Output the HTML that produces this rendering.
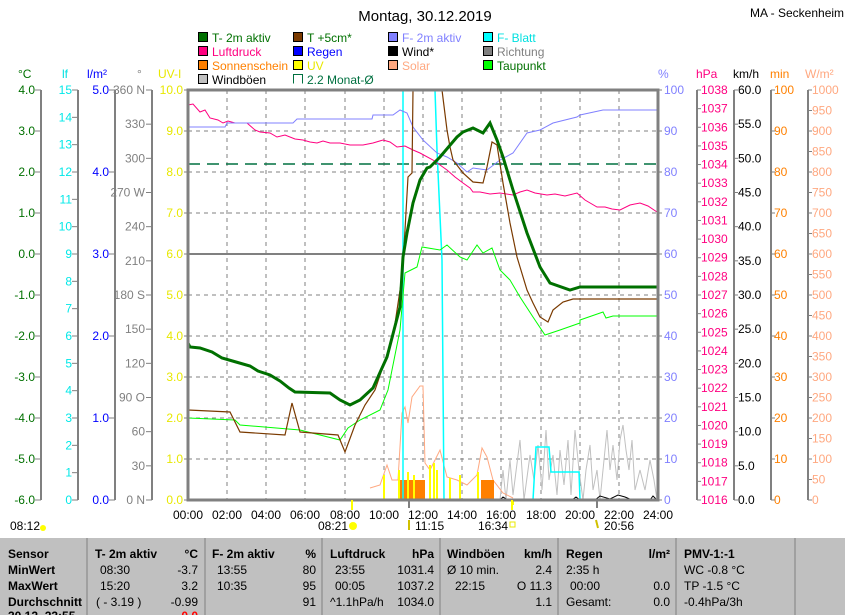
<!DOCTYPE html>
<html><head><meta charset="utf-8"><style>
body{margin:0;background:#fff;}
svg{display:block;font-family:"Liberation Sans",sans-serif;}
</style></head><body>
<svg width="845" height="615" viewBox="0 0 845 615" xmlns="http://www.w3.org/2000/svg">
<rect width="845" height="615" fill="#fff"/>
<text x="425" y="21" font-size="15" text-anchor="middle">Montag, 30.12.2019</text>
<text x="750" y="17" font-size="12">MA - Seckenheim</text>
<g font-size="12">
<rect x="198.5" y="32.5" width="9" height="9" fill="#007000" stroke="#000"/><text x="212" y="42" fill="#007000">T- 2m aktiv</text>
<rect x="293.5" y="32.5" width="9" height="9" fill="#7a3a00" stroke="#000"/><text x="307" y="42" fill="#007000">T +5cm*</text>
<rect x="388.5" y="32.5" width="9" height="9" fill="#8080ff" stroke="#000"/><text x="402" y="42" fill="#8080ff">F- 2m aktiv</text>
<rect x="483.5" y="32.5" width="9" height="9" fill="#00ffff" stroke="#000"/><text x="497" y="42" fill="#00e0e0">F- Blatt</text>
<rect x="198.5" y="46.5" width="9" height="9" fill="#ff0080" stroke="#000"/><text x="212" y="56" fill="#ff0080">Luftdruck</text>
<rect x="293.5" y="46.5" width="9" height="9" fill="#0000ff" stroke="#000"/><text x="307" y="56" fill="#0000ff">Regen</text>
<rect x="388.5" y="46.5" width="9" height="9" fill="#000" stroke="#000"/><text x="402" y="56" fill="#000">Wind*</text>
<rect x="483.5" y="46.5" width="9" height="9" fill="#808080" stroke="#000"/><text x="497" y="56" fill="#808080">Richtung</text>
<rect x="198.5" y="60.5" width="9" height="9" fill="#ff8000" stroke="#000"/><text x="212" y="70" fill="#ff8000">Sonnenschein</text>
<rect x="293.5" y="60.5" width="9" height="9" fill="#ffff00" stroke="#000"/><text x="307" y="70" fill="#e8e800">UV</text>
<rect x="388.5" y="60.5" width="9" height="9" fill="#ffa880" stroke="#000"/><text x="402" y="70" fill="#ffa880">Solar</text>
<rect x="483.5" y="60.5" width="9" height="9" fill="#00ff00" stroke="#000"/><text x="497" y="70" fill="#007000">Taupunkt</text>
<rect x="198.5" y="74.5" width="9" height="9" fill="#c0c0c0" stroke="#000"/><text x="212" y="84" fill="#000">Windböen</text>
<path d="M293.5,83.5 V74.5 H302.5 V83.5" fill="none" stroke="#007040"/><text x="307" y="84" fill="#007040">2.2 Monat-Ø</text>
</g>
<g font-size="12">
<text x="18" y="78" fill="#007000">°C</text>
<text x="62" y="78" fill="#00e0e0">lf</text>
<text x="87" y="78" fill="#0000ff">l/m²</text>
<text x="137" y="78" fill="#808080">°</text>
<text x="158" y="78" fill="#e8e800">UV-I</text>
<text x="658" y="78" fill="#8080ff">%</text>
<text x="696" y="78" fill="#ff0080">hPa</text>
<text x="733" y="78" fill="#000">km/h</text>
<text x="770" y="78" fill="#ff8000">min</text>
<text x="805" y="78" fill="#ffa880">W/m²</text>
</g>
<g stroke="#808080" stroke-width="2">
<line x1="41" y1="90" x2="41" y2="500"/><line x1="78" y1="90" x2="78" y2="500"/><line x1="115" y1="90" x2="115" y2="500"/><line x1="152" y1="90" x2="152" y2="500"/>
<line x1="697" y1="90" x2="697" y2="500"/><line x1="734" y1="90" x2="734" y2="500"/><line x1="771" y1="90" x2="771" y2="500"/><line x1="808" y1="90" x2="808" y2="500"/>
</g>
<g id="ticks" font-size="12"></g>
<!-- grid -->
<g stroke="#808080" stroke-dasharray="4,4" stroke-width="1">
<line x1="188" y1="131" x2="658" y2="131"/><line x1="188" y1="172" x2="658" y2="172"/><line x1="188" y1="213" x2="658" y2="213"/>
<line x1="188" y1="295" x2="658" y2="295"/><line x1="188" y1="336" x2="658" y2="336"/><line x1="188" y1="377" x2="658" y2="377"/><line x1="188" y1="418" x2="658" y2="418"/><line x1="188" y1="459" x2="658" y2="459"/>
<line x1="227" y1="90" x2="227" y2="500"/><line x1="266" y1="90" x2="266" y2="500"/><line x1="305" y1="90" x2="305" y2="500"/><line x1="345" y1="90" x2="345" y2="500"/><line x1="384" y1="90" x2="384" y2="500"/><line x1="423" y1="90" x2="423" y2="500"/><line x1="462" y1="90" x2="462" y2="500"/><line x1="501" y1="90" x2="501" y2="500"/><line x1="541" y1="90" x2="541" y2="500"/><line x1="580" y1="90" x2="580" y2="500"/><line x1="619" y1="90" x2="619" y2="500"/>
</g>
<line x1="188" y1="254" x2="658" y2="254" stroke="#808080" stroke-width="2"/>
<line x1="188" y1="164" x2="658" y2="164" stroke="#007040" stroke-width="1.5" stroke-dasharray="12,7"/>
<!-- low series -->
<path d="M500,500 L503,470 L506,500 L510,460 L513,495 L520,440 L524,500 L530,455 L534,480 L538,445 L542,490 L546,430 L549,480 L553,455 L557,495 L560,450 L564,485 L568,440 L571,495 L575,430 L579,470 L583,500 L586,470 L590,445 L593,490 L597,470 L600,500 L604,460 L607,430 L610,470 L613,445 L617,480 L620,440 L623,425 L626,450 L629,470 L632,440 L635,490 L640,470 L645,490 L650,460 L654,480 L657,500" fill="none" stroke="#c0c0c0" stroke-width="1"/>
<path d="M370,488 L380,485 L387,465 L392,480 L398,480 L402,413 L405,407 L408,423 L412,397 L420,386 L423,386 L425,463 L430,470 L440,450 L447,477 L457,480 L467,485 L477,475 L482,448 L487,457 L493,480 L503,493 L513,498" fill="none" stroke="#ffa880"/>
<rect x="399" y="480" width="26" height="19" fill="#ff8000"/>
<rect x="481" y="480" width="13" height="19" fill="#ff8000"/>
<g stroke="#ffff00" stroke-width="2">
<line x1="384" y1="500" x2="384" y2="475"/><line x1="399" y1="500" x2="399" y2="470"/><line x1="408" y1="500" x2="408" y2="472"/><line x1="414" y1="500" x2="414" y2="475"/><line x1="430" y1="500" x2="430" y2="465"/><line x1="434" y1="500" x2="434" y2="463"/><line x1="437" y1="500" x2="437" y2="470"/><line x1="450" y1="500" x2="450" y2="478"/><line x1="460" y1="500" x2="460" y2="475"/><line x1="478" y1="500" x2="478" y2="472"/><line x1="513" y1="500" x2="513" y2="505"/>
</g>
<path d="M500,500 L503,497 L508,500 M572,500 L576,497 L580,500 M595,500 L600,496 L610,499 L618,495 L625,497 L632,500 M650,500 L653,496 L657,500" fill="none" stroke="#000"/>
<path d="M403,500 L403,90 L435,90 L437,150 L442,260 L444,500 M533,500 L536,447 L549,447 L551,472 L579,472 L580,500" fill="none" stroke="#00ffff" stroke-width="1.5"/>
<!-- pressure -->
<path d="M188,105 L193,104 L200,112 L205,110 L210,118 L218,120 L223,123 L228,121 L235,123 L247,123 L255,130 L260,132 L270,133 L277,137 L285,135 L295,139 L303,140 L310,142 L317,143 L323,141 L330,143 L340,143 L350,145 L363,145 L373,143 L383,140 L390,142 L397,147 L405,146 L413,150 L420,153 L433,160 L440,165 L447,170 L455,177 L463,183 L470,188 L473,192 L480,192 L490,194 L500,193 L513,195 L520,192 L527,190 L535,193 L547,195 L555,194 L565,196 L577,193 L585,200 L597,207 L605,207 L612,209 L620,210 L630,205 L640,203 L648,206 L657,212" fill="none" stroke="#ff0080"/>
<path d="M188,127 L225,127 L227,123 L293,123 L297,119 L372,119 L373,115 L393,115 L400,110 L407,113 L413,127 L423,140 L437,153 L447,157 L457,163 L467,172 L473,168 L487,170 L500,160 L513,153 L527,133 L540,130 L553,123 L577,117 L580,115 L603,110 L657,110" fill="none" stroke="#8080ff"/>
<path d="M188,418 L235,420 L240,425 L300,430 L340,440 L348,428 L360,420 L380,410 L388,390 L400,330 L405,273 L417,267 L422,247 L440,250 L447,245 L460,257 L467,260 L477,245 L483,253 L492,248 L500,270 L510,280 L520,297 L533,317 L545,335 L560,330 L580,323 L580,320 L603,312 L606,318 L613,316 L657,316" fill="none" stroke="#00ff00"/>
<path d="M188,410 L230,412 L240,432 L285,435 L292,403 L300,432 L338,435 L345,452 L355,425 L365,405 L375,390 L393,337 L402,277 L405,230 L408,177 L412,173 L413,90 M442,90 L447,130 L450,147 L453,160 L463,173 L473,182 L483,183 L487,167 L492,142 L497,145 L503,183 L510,223 L517,257 L527,290 L533,303 L540,317 L548,322 L553,310 L563,302 L573,299 L657,299" fill="none" stroke="#7a3a00" stroke-width="1.2"/>
<path d="M188,343 L190,347 L200,348 L212,352 L222,358 L236,362 L250,366 L258,371 L270,375 L280,381 L289,388 L295,392 L330,393 L340,400 L350,405 L360,400 L373,388 L387,357 L400,307 L403,257 L407,233 L413,203 L420,180 L427,168 L430,167 L440,157 L457,137 L463,132 L473,128 L483,133 L490,123 L497,140 L503,157 L513,190 L527,233 L540,267 L550,283 L570,290 L580,287 L657,287" fill="none" stroke="#007000" stroke-width="3"/>
<rect x="188" y="90" width="470" height="410" fill="none" stroke="#808080" stroke-width="3"/>
<g font-size="12" fill="#000" text-anchor="middle">
<text x="188" y="519">00:00</text><text x="227" y="519">02:00</text><text x="266" y="519">04:00</text><text x="305" y="519">06:00</text><text x="345" y="519">08:00</text><text x="384" y="519">10:00</text><text x="423" y="519">12:00</text><text x="462" y="519">14:00</text><text x="501" y="519">16:00</text><text x="541" y="519">18:00</text><text x="580" y="519">20:00</text><text x="619" y="519">22:00</text><text x="658" y="519">24:00</text>
</g>
<g stroke="#808080" stroke-width="2"><line x1="409" y1="500" x2="409" y2="508"/><line x1="597" y1="500" x2="597" y2="508"/></g>
<g stroke="#ffff00" stroke-width="2"><line x1="352" y1="500" x2="352" y2="510"/><line x1="512" y1="500" x2="512" y2="510"/></g>
<g font-size="12"><text x="10" y="530">08:12</text><circle cx="43" cy="528" r="3" fill="#ffff00"/>
<text x="318" y="530">08:21</text><circle cx="353" cy="526" r="4" fill="#ffff00"/>
<text x="415" y="530">11:15</text><text x="478" y="530">16:34</text><rect x="510" y="522" width="5" height="5" fill="none" stroke="#e8e800"/><text x="604" y="530">20:56</text>
<path d="M409,520 L409,530 M596,520 L598,528" stroke="#d0c000" stroke-width="2"/></g>
<rect x="0" y="538" width="845" height="77" fill="#c0c0c0"/>
<g stroke="#a0a0a0" stroke-width="2"><line x1="87" y1="538" x2="87" y2="615"/><line x1="205" y1="538" x2="205" y2="615"/><line x1="322" y1="538" x2="322" y2="615"/><line x1="440" y1="538" x2="440" y2="615"/><line x1="558" y1="538" x2="558" y2="615"/><line x1="676" y1="538" x2="676" y2="615"/><line x1="795" y1="538" x2="795" y2="615"/></g>
<g font-size="12" font-weight="bold">
<text x="8" y="558">Sensor</text><text x="8" y="574">MinWert</text><text x="8" y="590">MaxWert</text><text x="8" y="606">Durchschnitt</text><text x="8" y="620">30.12. 23:55</text>
<text x="95" y="558">T- 2m aktiv</text><text x="198" y="558" text-anchor="end">°C</text>
<text x="212" y="558">F- 2m aktiv</text><text x="316" y="558" text-anchor="end">%</text>
<text x="330" y="558">Luftdruck</text><text x="434" y="558" text-anchor="end">hPa</text>
<text x="447" y="558">Windböen</text><text x="552" y="558" text-anchor="end">km/h</text>
<text x="566" y="558">Regen</text><text x="670" y="558" text-anchor="end">l/m²</text>
<text x="684" y="558">PMV-1:-1</text>
</g>
<g font-size="12">
<text x="100" y="574">08:30</text><text x="198" y="574" text-anchor="end">-3.7</text>
<text x="100" y="590">15:20</text><text x="198" y="590" text-anchor="end">3.2</text>
<text x="96" y="606">( - 3.19 )</text><text x="198" y="606" text-anchor="end">-0.99</text>
<text x="217" y="574">13:55</text><text x="316" y="574" text-anchor="end">80</text>
<text x="217" y="590">10:35</text><text x="316" y="590" text-anchor="end">95</text>
<text x="316" y="606" text-anchor="end">91</text>
<text x="335" y="574">23:55</text><text x="434" y="574" text-anchor="end">1031.4</text>
<text x="335" y="590">00:05</text><text x="434" y="590" text-anchor="end">1037.2</text>
<text x="330" y="606">^1.1hPa/h</text><text x="434" y="606" text-anchor="end">1034.0</text>
<text x="447" y="574">Ø 10 min.</text><text x="552" y="574" text-anchor="end">2.4</text>
<text x="455" y="590">22:15</text><text x="552" y="590" text-anchor="end">O 11.3</text>
<text x="552" y="606" text-anchor="end">1.1</text>
<text x="566" y="574">2:35 h</text>
<text x="570" y="590">00:00</text><text x="670" y="590" text-anchor="end">0.0</text>
<text x="566" y="606">Gesamt:</text><text x="670" y="606" text-anchor="end">0.0</text>
<text x="684" y="574">WC -0.8 °C</text><text x="684" y="590">TP -1.5 °C</text><text x="684" y="606">-0.4hPa/3h</text>
<text x="198" y="620" text-anchor="end" fill="#ff0000" font-weight="bold">0.0</text>
</g>
<script>
(function(){
var g=document.getElementById('ticks');var ns='http://www.w3.org/2000/svg';
function t(x,y,s,c,a){var e=document.createElementNS(ns,'text');e.setAttribute('x',x);e.setAttribute('y',y+4);e.setAttribute('fill',c);e.setAttribute('text-anchor',a);e.textContent=s;g.appendChild(e);}
function l(x1,x2,y){var e=document.createElementNS(ns,'line');e.setAttribute('x1',x1);e.setAttribute('x2',x2);e.setAttribute('y1',y);e.setAttribute('y2',y);e.setAttribute('stroke','#808080');g.appendChild(e);}
var i,y;
for(i=0;i<=10;i++){y=90+i*41;t(35,y,(4-i).toFixed(1),'#007000','end');l(35,41,y);t(183,y,(10-i).toFixed(1),'#e8e800','end');l(184,188,y);}
for(i=0;i<=15;i++){y=90+i*410/15;t(72,y,String(15-i),'#00e8e8','end');l(72,78,y);}
for(i=0;i<=5;i++){y=90+i*82;t(109,y,(5-i).toFixed(1),'#0000ff','end');l(109,115,y);}
var dl={0:'360 N',3:'270 W',6:'180 S',9:'90  O',12:'0   N'};
for(i=0;i<=12;i++){y=90+i*410/12;t(145,y,dl[i]||String(360-30*i),'#808080','end');l(146,152,y);}
for(i=0;i<=10;i++){y=90+i*41;t(664,y,String(100-10*i),'#8080ff','start');l(658,662,y);t(774,y,String(100-10*i),'#ff8000','start');l(771,775,y);}
for(i=0;i<=22;i++){y=90+i*410/22;t(701,y,String(1038-i),'#ff0080','start');l(697,701,y);}
for(i=0;i<=12;i++){y=90+i*410/12;t(738,y,(60-5*i).toFixed(1),'#000','start');l(734,738,y);}
for(i=0;i<=20;i++){y=90+i*20.5;t(812,y,String(1000-50*i),'#ffa880','start');l(808,812,y);}
})();
</script>
</svg>
</body></html>
